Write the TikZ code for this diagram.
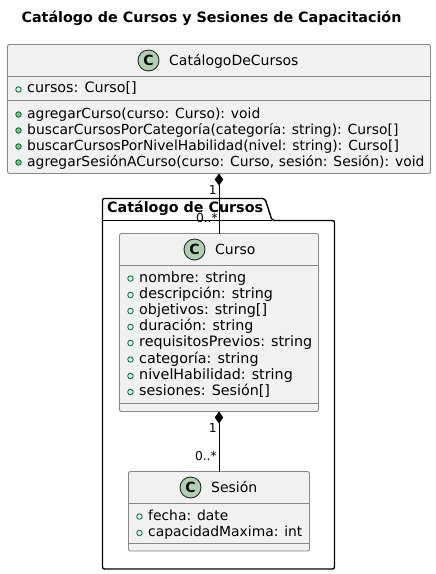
\documentclass[tikz,border=0pt]{standalone}
\usepackage{fontspec}
\setmainfont{DejaVu Sans}
\usetikzlibrary{arrows.meta}
\definecolor{boxfill}{HTML}{F1F1F1}
\definecolor{boxline}{HTML}{888888}
\definecolor{spot}{HTML}{ADD1B2}
\definecolor{vis}{HTML}{038048}
\definecolor{visfill}{HTML}{84BE84}
\tikzset{
 x=1pt,y=-1pt,
 classbox/.style={draw=boxline,fill=boxfill,rounded corners=2pt,line width=0.9pt,anchor=north west,inner sep=0pt,outer sep=0pt},
 divider/.style={draw=boxline,line width=0.9pt},
 member/.style={anchor=west,inner sep=0pt,font=\fontsize{14.3}{14}\selectfont,text height=10.5pt,text depth=3pt},
 method/.style={member,font=\fontsize{13.87}{14}\selectfont},
 cname/.style={anchor=center,inner sep=0pt,font=\fontsize{14}{14}\selectfont,text height=10.5pt,text depth=3pt},
 spotc/.style={circle,draw=black!70!boxline,fill=spot,line width=0.9pt,minimum size=21pt,inner sep=0pt,font=\fontsize{14}{14}\selectfont\bfseries},
 attrdot/.style={circle,draw=vis,line width=0.9pt,fill=none,minimum size=5.5pt,inner sep=0pt},
 methdot/.style={circle,draw=vis,line width=0.9pt,fill=visfill,minimum size=5.5pt,inner sep=0pt},
 mult/.style={inner sep=0pt,font=\fontsize{12.3}{12}\selectfont},
 compo/.style={line width=1pt,{Diamond[length=12pt,width=8.5pt]}-},
}
\begin{document}
\begin{tikzpicture}
\useasboundingbox (0,0) rectangle (436,574);
\node[font=\fontsize{14.3}{14}\selectfont\bfseries,inner sep=0pt] (title) at (211.5,18.5) {Catálogo de Cursos y Sesiones de Capacitación};
% package
\draw[line width=1.4pt,rounded corners=2pt,fill=white] (102.5,220.5) -- (102.5,198.5) -- (265,198.5) -- (272,220.5) -- (334.5,220.5) -- (334.5,569) -- (102.5,569) -- cycle;
\draw[line width=1.4pt] (102.5,220.5) -- (272,220.5);
\node[anchor=west,inner sep=0pt,font=\fontsize{14.3}{14}\selectfont\bfseries] (pkg) at (107,208.5) {Catálogo de Cursos};
% CatalogoDeCursos
\node[classbox,minimum width=423pt,minimum height=129pt] (cat) at (7.5,44.5) {};
\draw[divider] (7.5,76.5) -- (430.5,76.5) (7.5,100.5) -- (430.5,100.5);
\node[spotc] (catc) at (148.5,60.5) {C};
\node[cname,anchor=west] (catn) at (169,61.5) {CatálogoDeCursos};
\node[attrdot] (d1) at (18.5,89.5) {};
\node[member] (c1) at (27,89) {cursos: Curso[]};
\foreach \n/\y/\t in {m1/114.5/agregarCurso(curso: Curso): void,m2/130.5/buscarCursosPorCategoría(categoría: string): Curso[],m3/146.5/buscarCursosPorNivelHabilidad(nivel: string): Curso[],m4/162.5/agregarSesiónACurso(curso: Curso{,} sesión: Sesión): void}{
 \node[methdot] (d\n) at (18.5,\y) {};
 \node[method] (\n) at (27,\y) {\t};
}
% Curso
\node[classbox,minimum width=199pt,minimum height=178pt] (curso) at (119.5,233.5) {};
\draw[divider] (119.5,265.5) -- (318.5,265.5) (119.5,403.5) -- (318.5,403.5);
\node[spotc] (cursoc) at (194.5,249.5) {C};
\node[cname,anchor=west] (curson) at (215,250.5) {Curso};
\foreach \n/\y/\t in {a1/278.5/nombre: string,a2/295/descripción: string,a3/311/objetivos: string[],a4/327/duración: string,a5/343/requisitosPrevios: string,a6/359.5/categoría: string,a7/376/nivelHabilidad: string,a8/392/sesiones: Sesión[]}{
 \node[attrdot] (d\n) at (130.5,\y) {};
 \node[member] (\n) at (139,\y) {\t};
}
% Sesion
\node[classbox,minimum width=181pt,minimum height=79.5pt] (ses) at (128.5,471.5) {};
\draw[divider] (128.5,503.5) -- (309.5,503.5) (128.5,543.5) -- (309.5,543.5);
\node[spotc] (sesc) at (190.5,487.5) {C};
\node[cname,anchor=west] (sesn) at (211,488.5) {Sesión};
\foreach \n/\y/\t in {s1/516.5/fecha: date,s2/533/capacidadMaxima: int}{
 \node[attrdot] (d\n) at (139.5,\y) {};
 \node[method] (\n) at (148,\y) {\t};
}
% connectors
\draw[compo] (cat.south) -- (curso.north);
\draw[compo] (curso.south) -- (ses.north);
\node[mult,anchor=east] (l1) at (217,190) {1};
\node[mult,anchor=east] (l2) at (218,218) {0..*};
\node[mult,anchor=east] (l3) at (217,428) {1};
\node[mult,anchor=east] (l4) at (217,456) {0..*};
\end{tikzpicture}
\end{document}
